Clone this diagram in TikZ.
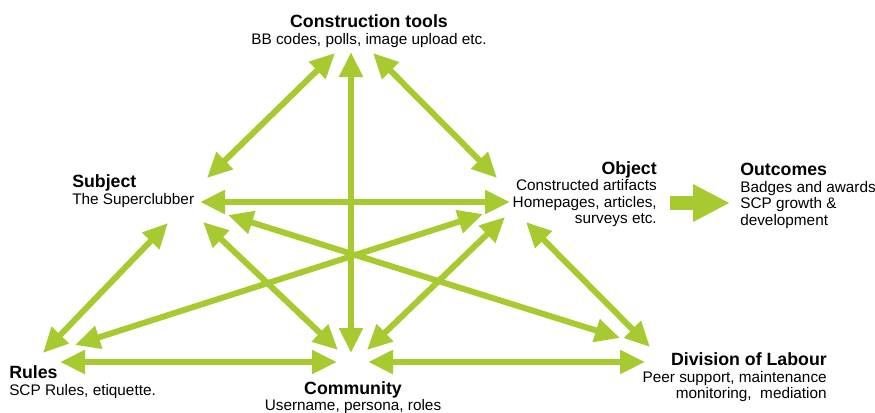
\documentclass[tikz,border=0pt]{standalone}
\usepackage{fontspec}
\setmainfont{Liberation Sans}
\usetikzlibrary{arrows.meta}
\definecolor{lime}{RGB}{166,202,48}
\newcommand\txtfont{\fontsize{11.5}{12.4}\selectfont}
\newcommand\ttlfont{\fontsize{13.3}{12.4}\selectfont\bfseries}
\begin{document}
\begin{tikzpicture}[x=0.75pt,y=-0.75pt,every node/.style={inner sep=0pt,font=\txtfont},
	link/.style={draw=lime,line width=4.5pt,{Triangle[length=18.75pt,width=17pt]}-{Triangle[length=18.75pt,width=17pt]}},
	fat/.style={draw=lime,line width=10pt,-{Triangle[length=27.75pt,width=26.25pt]}}]
	\useasboundingbox (0,0) rectangle (875,412);
	% labels
	\node (tools) at (369,14.5) [anchor=north,align=center] {{\ttlfont Construction tools}\\BB codes, polls, image upload etc.};
	\node (subj) at (72,174.5) [anchor=north west,align=left] {{\ttlfont Subject}\\The Superclubber};
	\node (obj) at (657,161) [anchor=north east,align=right] {{\ttlfont Object}\\Constructed artifacts\\Homepages, articles,\\surveys etc.};
	\node (outc) at (740,163) [anchor=north west,align=left] {{\ttlfont Outcomes}\\Badges and awards\\SCP growth \&\\development};
	\node (rules) at (9,365.5) [anchor=north west,align=left] {{\ttlfont Rules}\\SCP Rules, etiquette.};
	\node (comm) at (353,381) [anchor=north,align=center] {{\ttlfont Community}\\Username, persona, roles};
	\node (div) at (827,352.5) [anchor=north east,align=right] {{\ttlfont Division of Labour}\\Peer support, maintenance\\monitoring,~ mediation};
	% arrow ends
	\coordinate (tools-l) at (335,53); \coordinate (tools-m) at (351,52); \coordinate (tools-r) at (373,53);
	\coordinate (subj-t) at (207,178); \coordinate (subj-r) at (200,202); \coordinate (subj-br) at (228,215);
	\coordinate (subj-b) at (203,222); \coordinate (subj-bl) at (168,223);
	\coordinate (obj-t) at (497,178); \coordinate (obj-l) at (510,202); \coordinate (obj-bl) at (483,214);
	\coordinate (obj-b) at (505,217); \coordinate (obj-br) at (526,222); \coordinate (obj-o) at (670,203);
	\coordinate (outc-i) at (730,203);
	\coordinate (rules-t) at (43,353); \coordinate (rules-tr) at (75,345); \coordinate (rules-r) at (60,362);
	\coordinate (comm-t) at (351,353); \coordinate (comm-tl) at (338,350); \coordinate (comm-tr) at (367,350);
	\coordinate (comm-l) at (337,362); \coordinate (comm-r) at (368,362);
	\coordinate (div-tl) at (620,338); \coordinate (div-t) at (650,347); \coordinate (div-l) at (645,362);
	\foreach \a/\b in {tools-m/comm-t,tools-l/subj-t,tools-r/obj-t,subj-r/obj-l,subj-br/div-tl,
		obj-bl/rules-tr,subj-bl/rules-t,subj-b/comm-tl,obj-b/comm-tr,rules-r/comm-l,comm-r/div-l,obj-br/div-t}
	\draw[link] (\a) -- (\b);
	\draw[fat] (obj-o) -- (outc-i);
\end{tikzpicture}
\end{document}
